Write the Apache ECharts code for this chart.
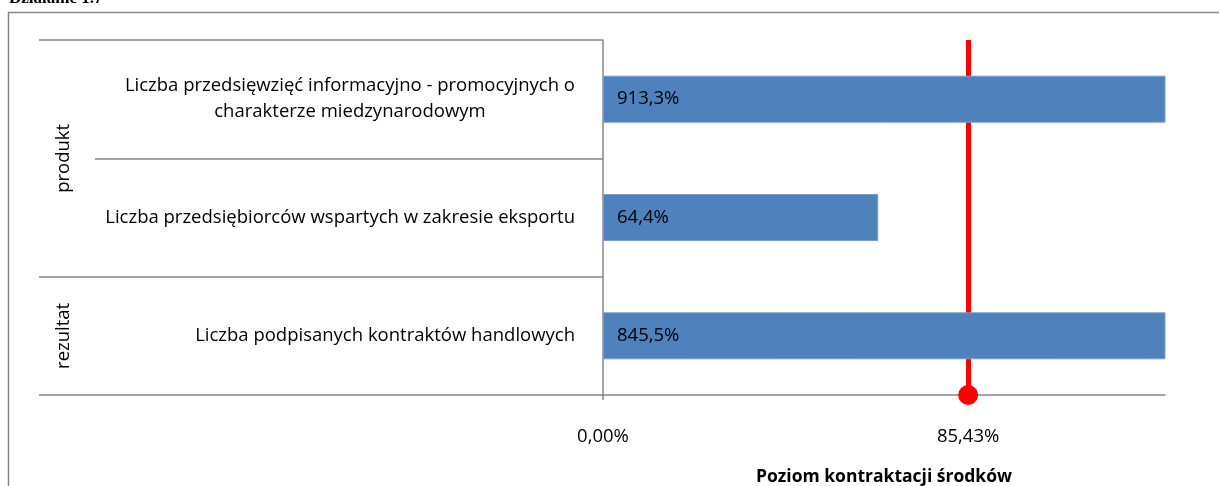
<!DOCTYPE html>
<html>
<head>
<meta charset="utf-8">
<script src="https://cdn.jsdelivr.net/npm/echarts@6/dist/echarts.min.js"></script>
<style>
  html, body { margin: 0; padding: 0; background: #fff; }
  #main { width: 1219px; height: 486px; }
</style>
</head>
<body>
<div id="main"></div>
<script>
// wskazniki (od gory)
var categories = [
  'Liczba przedsięwzięć informacyjno - promocyjnych o\ncharakterze miedzynarodowym',
  'Liczba przedsiębiorców wspartych w zakresie eksportu',
  'Liczba podpisanych kontraktów handlowych'
];
var values = [913.3, 64.4, 845.5];          // % realizacji
var groups = ['produkt', 'rezultat'];
var groupSizes = [2, 1];                     // ile wskaznikow w grupie
var threshold = 85.43;                       // poziom kontraktacji srodkow
var tickLabels = [0, threshold];

var gray = '#878787';
var font = '"Open Sans", "Noto Sans", sans-serif';

// granice i srodki grup (w jednostkach kategorii)
var groupBounds = [0], groupCenters = [], acc = 0;
for (var i = 0; i < groupSizes.length; i++) {
  groupCenters.push(acc + groupSizes[i] / 2);
  acc += groupSizes[i];
  groupBounds.push(acc);
}

function pl(v, d) { return v.toFixed(d).replace('.', ',') + '%'; }

var myChart = echarts.init(document.getElementById('main'));
myChart.setOption({
  animation: false,
  title: {
    text: 'Działanie 1.7',
    left: 4, top: -15,
    textStyle: { fontFamily: '"Liberation Serif", serif', fontWeight: 'bold', fontSize: 17, color: '#000' }
  },
  graphic: [{
    type: 'rect',
    shape: { x: 8.5, y: 12.5, width: 1400, height: 600 },
    style: { fill: 'none', stroke: gray, lineWidth: 1.5 },
    silent: true
  }],
  grid: { left: 603, right: 54, top: 40, bottom: 91, containLabel: false, outerBoundsMode: 'none' },
  xAxis: {
    type: 'value',
    min: 0, max: 131.5,
    name: 'Poziom kontraktacji środków',
    nameLocation: 'middle',
    nameGap: 73,
    nameTextStyle: { fontFamily: font, fontWeight: 'bold', fontSize: 17.5, color: '#000' },
    splitLine: { show: false },
    axisLine: { show: true, onZero: false, lineStyle: { color: gray, width: 1.5 } },
    axisTick: { show: true, customValues: tickLabels, length: 5, lineStyle: { color: gray, width: 1.5 } },
    axisLabel: {
      customValues: tickLabels, margin: 32,
      formatter: function (v) { return pl(v, 2); },
      fontFamily: font, fontSize: 18.5, color: '#000'
    }
  },
  yAxis: [{
    type: 'category',
    data: categories,
    inverse: true,
    axisLine: { show: true, lineStyle: { color: gray, width: 1.5 } },
    axisTick: { show: true, length: 508, lineStyle: { color: gray, width: 1.5 } },
    axisLabel: {
      margin: 28,
      lineHeight: 26,
      formatter: function (v) { return '{c|' + v + '}'; },
      rich: { c: { align: 'center', fontFamily: font, fontSize: 18.5, lineHeight: 26, color: '#000' } }
    }
  }, {
    type: 'value',
    min: 0, max: acc,
    inverse: true,
    position: 'left',
    splitLine: { show: false },
    axisLine: { show: false },
    axisTick: { show: true, customValues: groupBounds, length: 564, lineStyle: { color: gray, width: 1.5 } },
    axisLabel: {
      customValues: groupCenters,
      rotate: 90,
      margin: 530,
      formatter: function (v) { return groups[groupCenters.indexOf(v)]; },
      fontFamily: font, fontSize: 18.5, color: '#000'
    }
  }],
  series: [{
    type: 'bar',
    yAxisIndex: 0,
    data: values,
    barWidth: 47,
    itemStyle: { color: '#4F81BD', borderColor: '#7A9CC9', borderWidth: 1 },
    label: {
      show: true, position: 'insideLeft', distance: 14,
      formatter: function (p) { return pl(p.value, 1); },
      fontFamily: font, fontSize: 18.5, color: '#000'
    },
    markLine: {
      silent: true,
      z: 1,
      symbol: ['none', 'circle'],
      symbolSize: 20,
      label: { show: false },
      lineStyle: { color: '#FF0000', width: 5, type: 'solid' },
      itemStyle: { color: '#FF0000' },
      data: [{ xAxis: threshold }]
    }
  }]
});
</script>
</body>
</html>
